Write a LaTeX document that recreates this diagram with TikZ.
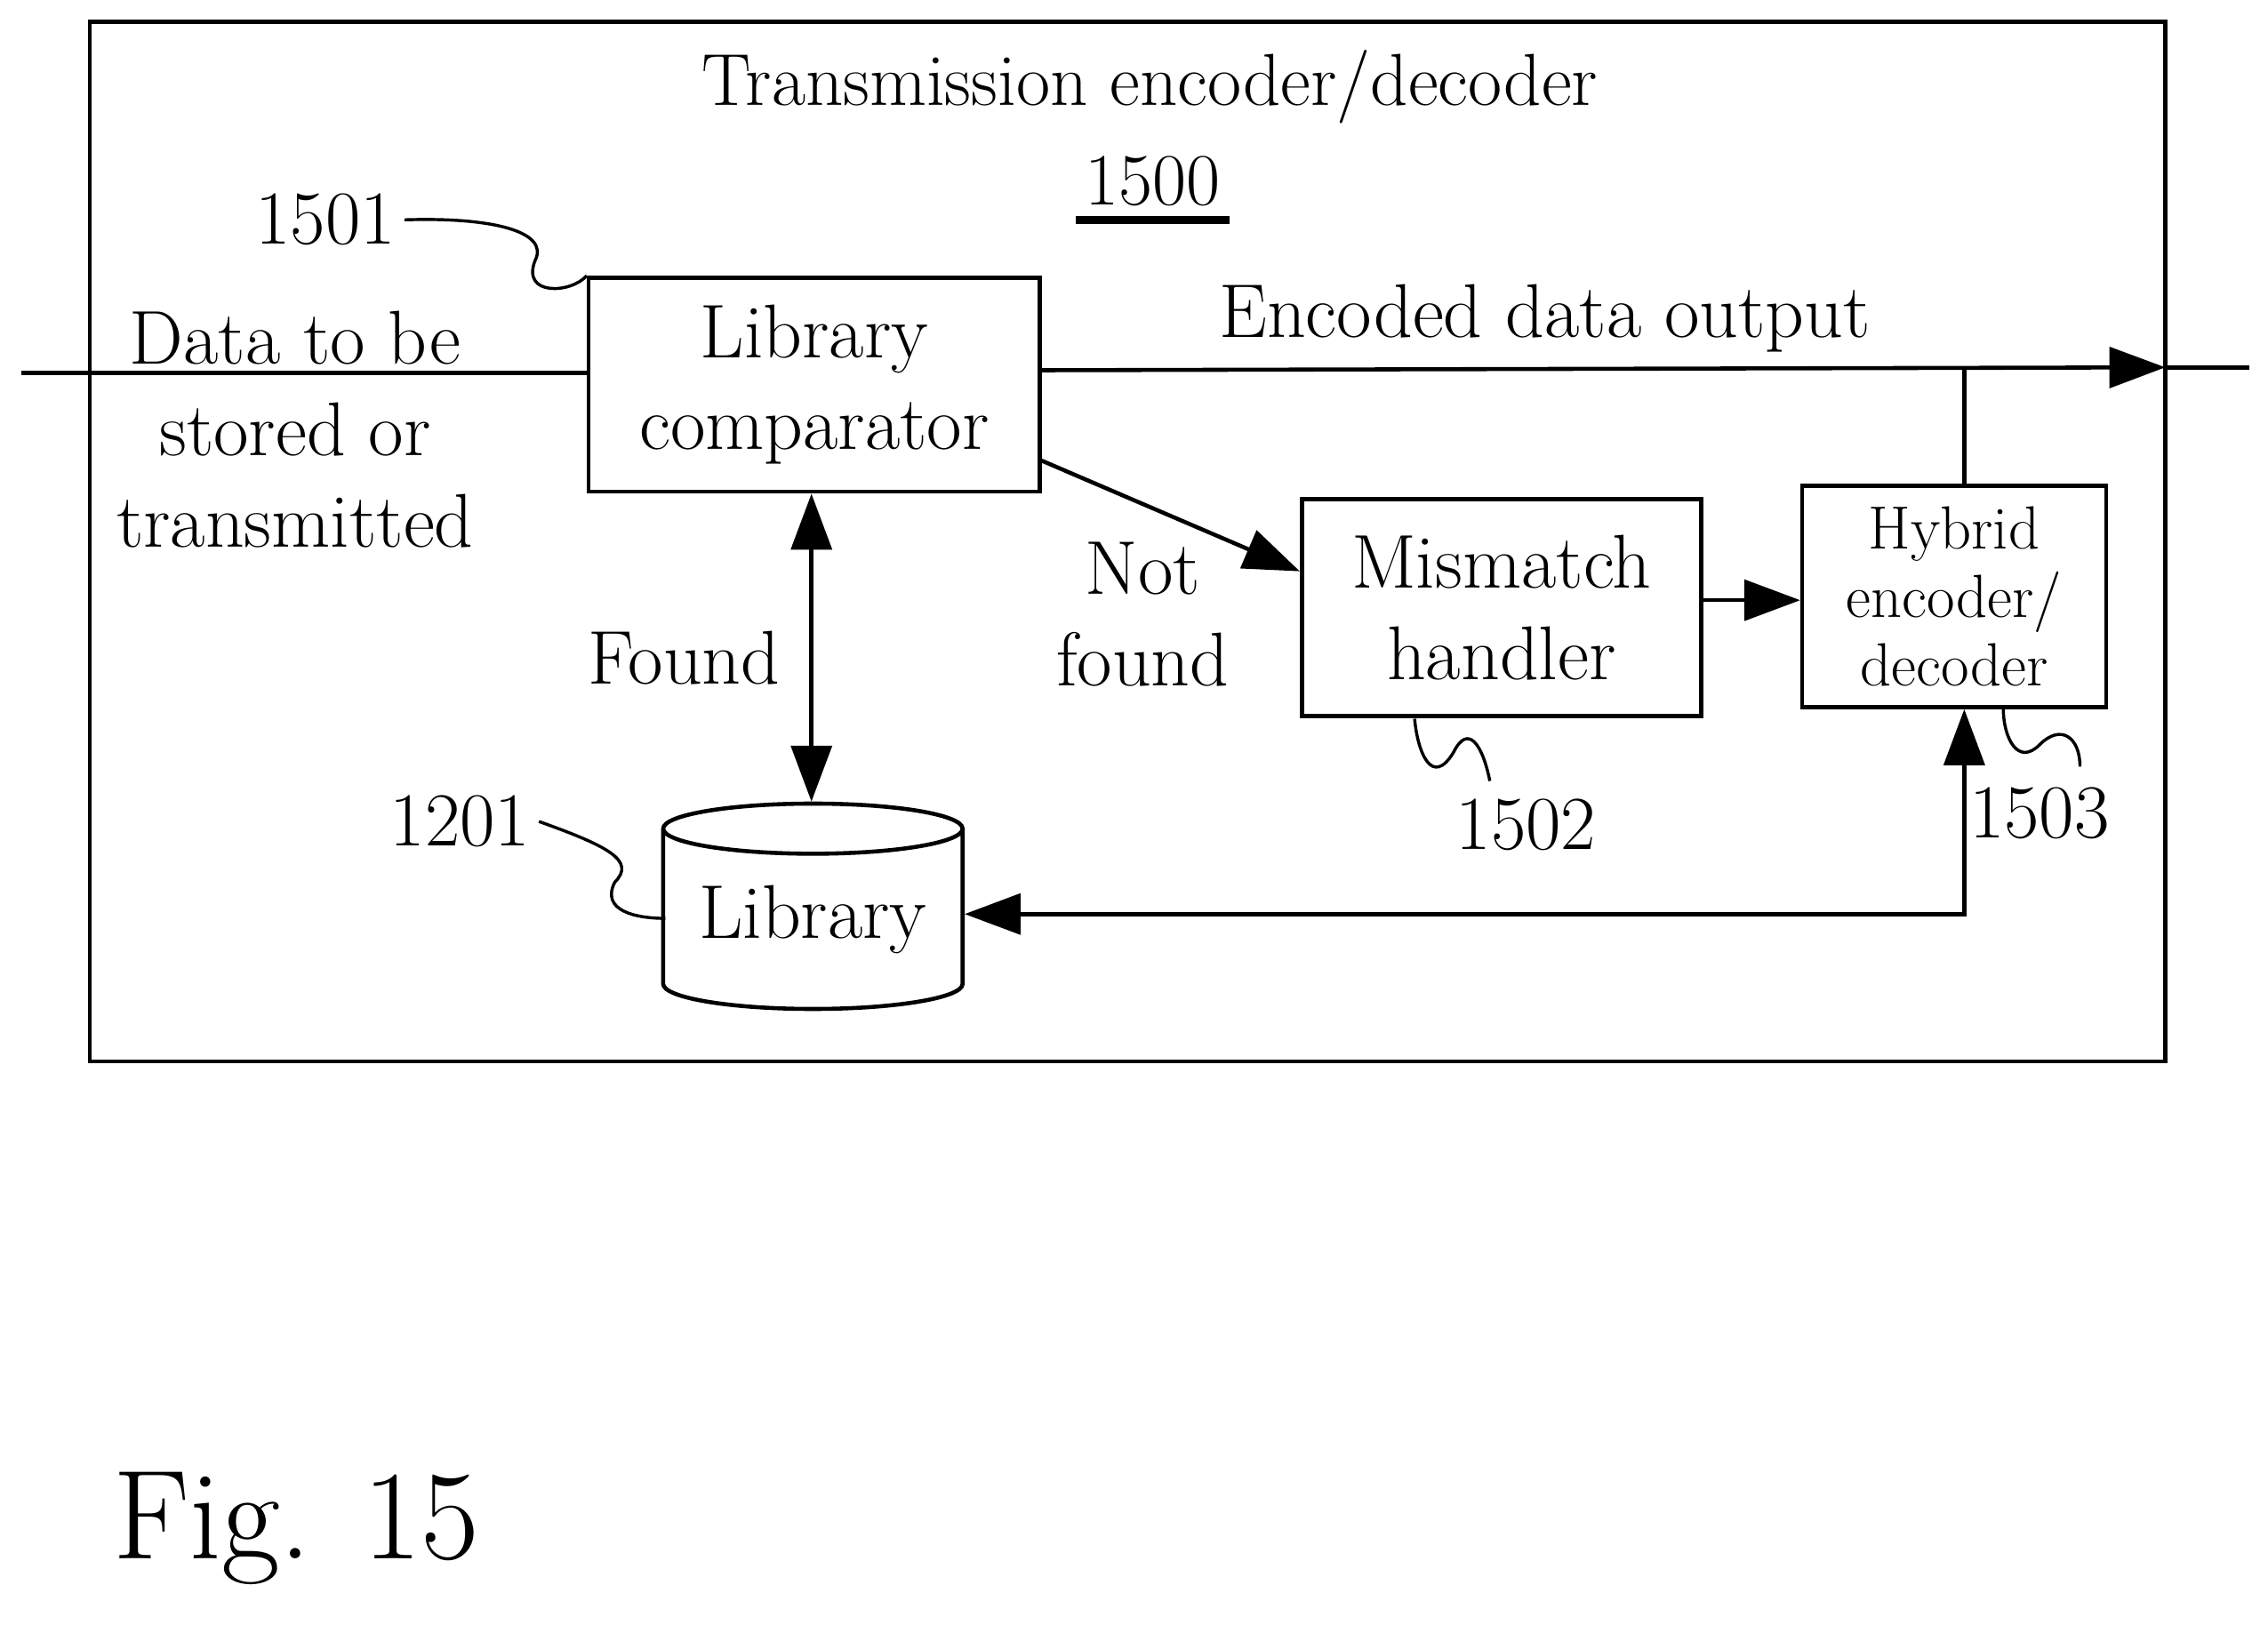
\documentclass[tikz,border=0pt]{standalone}
\usetikzlibrary{shapes.geometric,arrows.meta}
\begin{document}
\begin{tikzpicture}[x=0.02cm,y=-0.02cm,
  box/.style={draw,line width=1.6pt,inner sep=0pt},
  txt/.style={font=\fontsize{30}{36}\selectfont,align=center},
  ln/.style={line width=1.6pt},
  arr/.style={ln,-{Triangle[length=22pt,width=16pt]}},
  sq/.style={line width=1.2pt}]
\useasboundingbox (0,0) rectangle (1568,1123);
\node[box,minimum width=1435*0.02cm,minimum height=719*0.02cm] (outer) at (779.5,374.5) {};
\node[font=\fontsize{29}{34}\selectfont] (title) at (795,60) {Transmission encoder/decoder};
\node[font=\fontsize{29}{34}\selectfont] (n1500) at (797,125) {1500};
\draw[line width=3pt] ([yshift=-2pt]n1500.south west) -- ([yshift=-2pt]n1500.south east);
\node[box,minimum width=312*0.02cm,minimum height=148*0.02cm,txt] (comp) at (563,266) {Library\\comparator};
\node[box,minimum width=276*0.02cm,minimum height=150*0.02cm,txt] (mis) at (1038,420) {Mismatch\\handler};
\node[box,minimum width=210*0.02cm,minimum height=153*0.02cm,font=\fontsize{24}{27}\selectfont,align=center] (hyb) at (1351,412.5) {Hybrid\\encoder/\\decoder};
\node[cylinder,shape border rotate=90,aspect=0.22,draw,line width=1.6pt,minimum width=207*0.02cm,minimum height=142*0.02cm,inner sep=0pt,txt] (lib) at (562,636) {Library};
\coordinate (in) at (15,258);
\coordinate (outend) at (1555,254);
\coordinate (outtip) at (1497,254);
\coordinate (j) at (1358,255);
\coordinate (c2) at (1358,632);
\draw[ln] (in) -- (in -| comp.west);
\draw[arr] (comp.east |- 0,256) -- (outtip);
\draw[ln] (outtip) -- (outend);
\draw[ln] (hyb.north -| j) -- (j);
\draw[arr] (719,318) -- (mis.west |- 0,395);
\draw[arr] (mis.east |- 0,415) -- (hyb.west |- 0,415);
\draw[ln,{Triangle[length=22pt,width=16pt]}-{Triangle[length=22pt,width=16pt]}] (comp.south -| 561,0) -- (lib.north -| 561,0);
\draw[ln,{Triangle[length=22pt,width=16pt]}-{Triangle[length=22pt,width=16pt]}] (lib.east |- c2) -- (c2) -- (hyb.south -| c2);
\node[txt] (dtb) at (204,297) {Data to be\\stored or\\transmitted};
\node[txt] (edo) at (1068,220) {Encoded data output};
\node[txt] (nf) at (790,425) {Not\\found};
\node[txt] (fd) at (473,455) {Found};
\node[txt] (l1501) at (225,152) {1501};
\node[txt] (l1201) at (318,568) {1201};
\node[txt] (l1502) at (1055,570) {1502};
\node[txt] (l1503) at (1410,562) {1503};
\draw[sq] (l1501.east) .. controls (340,150) and (380,160) .. (370,180) .. controls (360,205) and (395,203) .. (comp.north west);
\draw[sq] (l1201.east) .. controls (420,585) and (440,595) .. (425,610) .. controls (415,630) and (440,635) .. (460,635);
\draw[sq] (978,497) .. controls (980,520) and (990,545) .. (1005,520) .. controls (1015,500) and (1025,515) .. (1030,540);
\draw[sq] (1385,490) .. controls (1385,510) and (1395,530) .. (1410,515) .. controls (1425,500) and (1438,510) .. (1438,530);
\node[font=\fontsize{50}{58}\selectfont] (fig) at (205,1057) {Fig. 15};
\end{tikzpicture}
\end{document}
